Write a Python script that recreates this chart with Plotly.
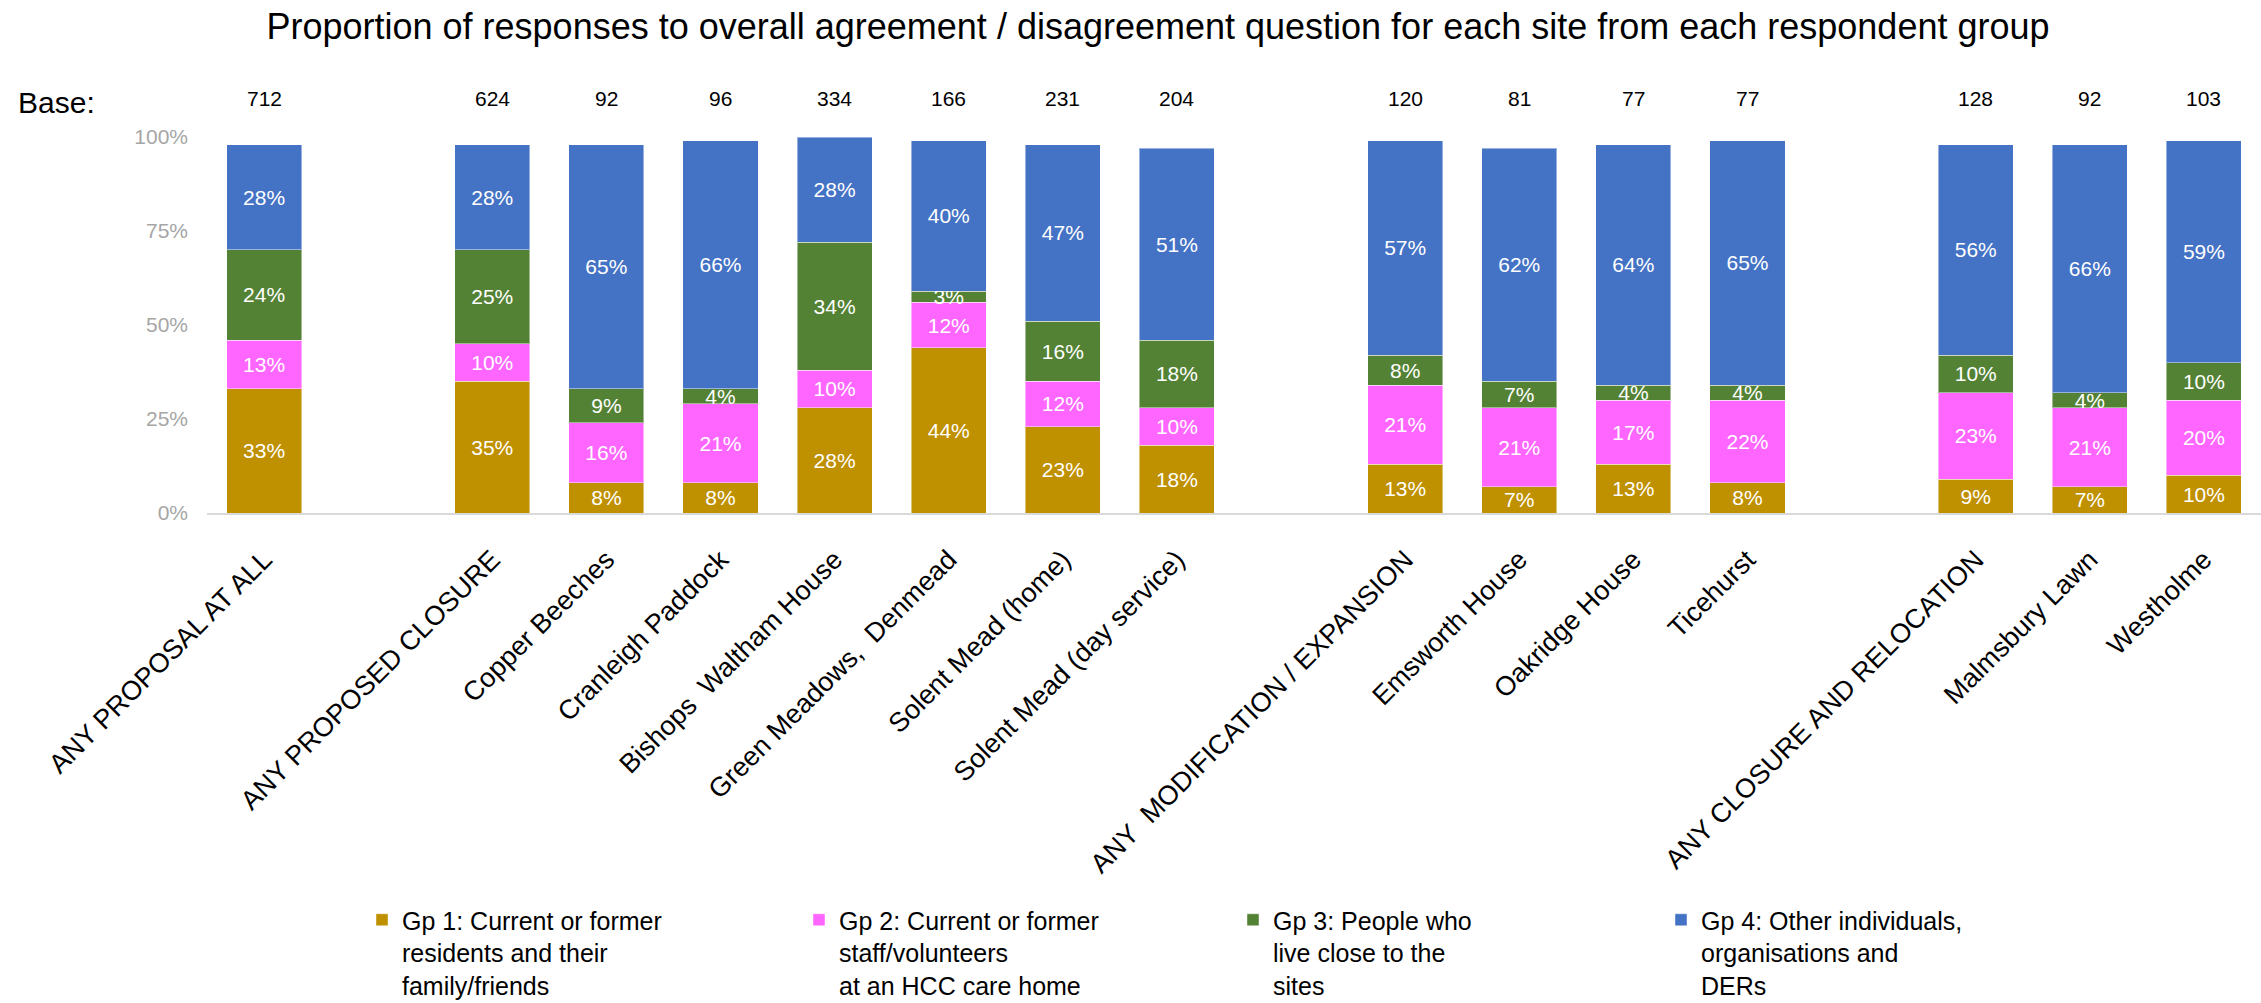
import plotly.graph_objects as go

# Sites (empty strings leave a blank slot between groups of sites)
sites = [
    "ANY PROPOSAL AT ALL", "",
    "ANY PROPOSED CLOSURE", "Copper Beeches", "Cranleigh Paddock",
    "Bishops\u00a0 Waltham House", "Green Meadows,\u00a0 Denmead",
    "Solent Mead (home)", "Solent Mead (day service)", "",
    "ANY\u00a0 MODIFICATION / EXPANSION", "Emsworth House", "Oakridge House",
    "Ticehurst", "",
    "ANY CLOSURE AND RELOCATION", "Malmsbury Lawn", "Westholme",
]

# Number of respondents behind each bar
base = [712, None, 624, 92, 96, 334, 166, 231, 204, None,
        120, 81, 77, 77, None, 128, 92, 103]

# Percentage of responses from each respondent group
gp1 = [33, None, 35, 8, 8, 28, 44, 23, 18, None, 13, 7, 13, 8, None, 9, 7, 10]
gp2 = [13, None, 10, 16, 21, 10, 12, 12, 10, None, 21, 21, 17, 22, None, 23, 21, 20]
gp3 = [24, None, 25, 9, 4, 34, 3, 16, 18, None, 8, 7, 4, 4, None, 10, 4, 10]
gp4 = [28, None, 28, 65, 66, 28, 40, 47, 51, None, 57, 62, 64, 65, None, 56, 66, 59]

group_names = [
    "Gp 1: Current or former<br>residents and their<br>family/friends",
    "Gp 2: Current or former<br>staff/volunteers<br>at an HCC care home",
    "Gp 3: People who<br>live close to the<br>sites",
    "Gp 4: Other individuals,<br>organisations and<br>DERs",
]
group_values = [gp1, gp2, gp3, gp4]
group_colors = ["#BF9000", "#FF66FF", "#548235", "#4472C4"]

y_ticks = [0, 25, 50, 75, 100]
y_tick_labels = ["0%", "25%", "50%", "75%", "100%"]

title_text = ("Proportion of responses to overall agreement / disagreement "
              "question for each site from each respondent group")

W, H = 2261, 1003
M_L, M_R, M_T, M_B = 207, 0, 137, 490
PLOT_W = W - M_L - M_R
PLOT_H = H - M_T - M_B

FONT = "Liberation Sans, Arial, sans-serif"
positions = list(range(len(sites)))

fig = go.Figure()
legend_ids = ["legend", "legend2", "legend3", "legend4"]
for name, vals, col, lg in zip(group_names, group_values, group_colors, legend_ids):
    fig.add_trace(go.Bar(
        x=positions,
        y=vals,
        name=name,
        legend=lg,
        text=[f"{v}%" if v is not None else "" for v in vals],
        texttemplate="%{text}",
        marker=dict(color=col, line=dict(color="rgba(255,255,255,0.45)", width=1)),
        textposition="inside",
        insidetextanchor="middle",
        textangle=0,
        textfont=dict(family=FONT, size=21, color="white"),
        hovertemplate="%{text}<extra></extra>",
    ))

annotations = []
for xpos, n in zip(positions, base):
    if n is None:
        continue
    annotations.append(dict(
        x=xpos, xref="x", y=1, yref="paper", yanchor="middle", yshift=39,
        text=str(n), showarrow=False,
        font=dict(family=FONT, size=21, color="black"),
    ))
annotations.append(dict(
    x=0, xref="paper", xanchor="center", xshift=-151,
    y=1, yref="paper", yanchor="middle", yshift=35,
    text="Base:", showarrow=False,
    font=dict(family=FONT, size=30, color="black"),
))


def px_to_paper_x(px):
    return (px - M_L) / PLOT_W


def px_to_paper_y(py):
    return (H - M_B - py) / PLOT_H


legend_lefts = [362, 799, 1233, 1661]
legend_layout = {}
for lg, left in zip(legend_ids, legend_lefts):
    legend_layout[lg] = dict(
        x=px_to_paper_x(left), xanchor="left",
        y=px_to_paper_y(897), yanchor="top",
        orientation="v", valign="top",
        font=dict(family=FONT, size=25, color="black"),
        bgcolor="rgba(0,0,0,0)", borderwidth=0,
    )

fig.update_layout(
    width=W, height=H,
    margin=dict(l=M_L, r=M_R, t=M_T, b=M_B, autoexpand=False),
    paper_bgcolor="white", plot_bgcolor="white",
    barmode="stack", bargap=0.342,
    title=dict(text=title_text, x=1158 / W, xref="container", xanchor="center",
               y=1 - 26 / H, yanchor="middle",
               font=dict(family=FONT, size=36, color="black")),
    uniformtext=dict(minsize=21, mode="show"),
    showlegend=True,
    annotations=annotations,
    **legend_layout,
)

fig.update_xaxes(
    range=[-0.5, len(sites) - 0.5],
    tickmode="array", tickvals=positions, ticktext=sites,
    tickangle=-45, ticks="", ticklabelstandoff=18,
    tickfont=dict(family=FONT, size=27, color="black"),
    showline=True, linecolor="#D9D9D9", linewidth=2,
    showgrid=False, zeroline=False, automargin=False,
)
fig.update_yaxes(
    range=[0, 100], tickmode="array", tickvals=y_ticks, ticktext=y_tick_labels,
    ticks="", ticklabelstandoff=18,
    tickfont=dict(family=FONT, size=21, color="#A6A6A6"),
    showline=False, showgrid=False, zeroline=False, automargin=False,
)

fig.write_html("out.html")
